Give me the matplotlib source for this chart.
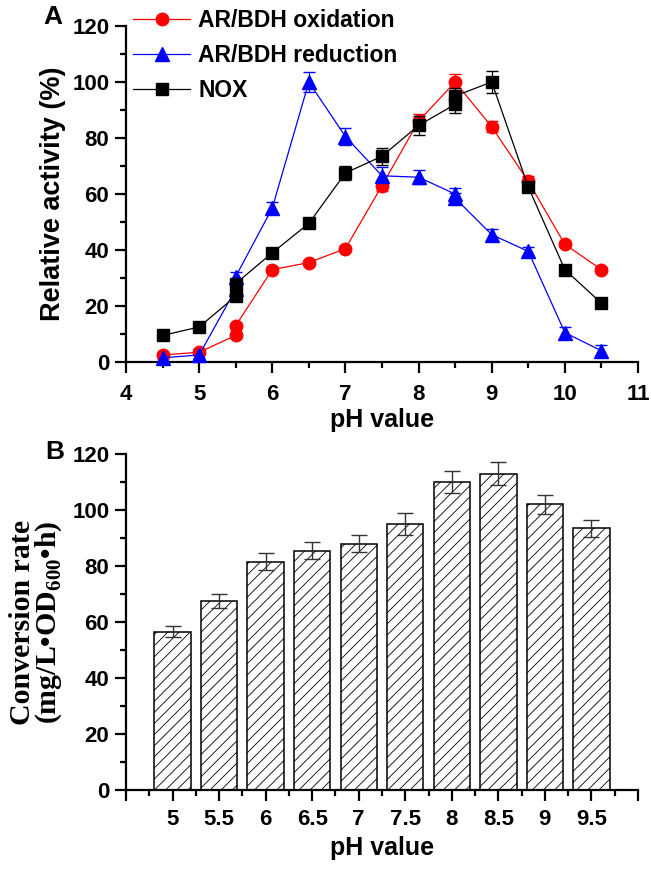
import numpy as np
import matplotlib
matplotlib.use("Agg")
from matplotlib import pyplot as plt
from matplotlib.ticker import MultipleLocator, FixedLocator

# panel A data (duplicated pH points come from two buffers)
ox_ph = [4.5, 5, 5.5, 5.5, 6, 6.5, 7, 7.5, 8, 8.5, 9, 9.5, 10, 10.5]
ox_act = [2.5, 3.5, 9.5, 13, 33, 35.5, 40.5, 63, 86, 100, 84, 64.5, 42, 33]
ox_err = [1, 1, 1, 1, 1, 1, 1, 2, 2.5, 3, 2, 2, 1, 1]

red_ph = [4.5, 5, 5.5, 5.5, 6, 6.5, 7, 7.5, 8, 8.5, 8.5, 9, 9.5, 10, 10.5]
red_act = [1.5, 2.5, 26, 30.5, 55, 100, 80.5, 66.5, 66, 60, 58.5, 45.5, 39.5, 10.5, 4]
red_err = [1, 1, 1.5, 1.5, 2, 3.5, 3, 3, 2.5, 2, 2, 2, 1.5, 2, 2]

nox_ph = [4.5, 5, 5.5, 5.5, 6, 6.5, 7, 7.5, 8, 8.5, 8.5, 9, 9.5, 10, 10.5]
nox_act = [9.5, 12.5, 23.5, 28, 39, 49.5, 67.5, 73.5, 84.5, 92, 95, 100, 62.5, 33, 21]
nox_err = [1, 1, 1.5, 1.5, 1.5, 1.5, 2.5, 3, 3.5, 3, 3, 4, 1.5, 1, 1]

# panel B data
conv_ph = ["5", "5.5", "6", "6.5", "7", "7.5", "8", "8.5", "9", "9.5"]
conv_rate = [56.5, 67.5, 81.5, 85.5, 88, 95, 110, 113, 102, 93.5]
conv_err = [2, 2.5, 3, 3, 3, 4, 4, 4, 3.5, 3]

plt.rcParams['font.family'] = ['Liberation Sans', 'DejaVu Sans']
plt.rcParams['font.weight'] = 'bold'
plt.rcParams['hatch.linewidth'] = 0.6
plt.rcParams['hatch.color'] = '#333333'
plt.rcParams['mathtext.fontset'] = 'custom'
plt.rcParams['mathtext.rm'] = 'Liberation Serif:bold'
plt.rcParams['mathtext.bf'] = 'Liberation Serif:bold'

W, H = 651, 872
fig = plt.figure(figsize=(W / 100, H / 100), dpi=100)
axA = fig.add_axes([126 / W, 1 - 362 / H, 512 / W, 336 / H])
axB = fig.add_axes([126 / W, 1 - 790 / H, 512 / W, 336 / H])

def style(ax):
    for s in ['top', 'right']:
        ax.spines[s].set_visible(False)
    for s in ['left', 'bottom']:
        ax.spines[s].set_linewidth(1.6)
    ax.tick_params(which='major', direction='out', length=8, width=1.6, labelsize=16)
    ax.tick_params(which='minor', direction='out', length=4, width=1.6)
    ax.tick_params(axis='y', which='major', pad=4)
    ax.tick_params(axis='x', which='major', pad=8)
    for lab in ax.get_xticklabels() + ax.get_yticklabels():
        lab.set_fontweight('bold')

# ---- panel A
axA.errorbar(ox_ph, ox_act, yerr=ox_err, color='red', marker='o', ms=9, lw=0.9,
             capsize=4, elinewidth=0.9, label='AR/BDH oxidation', clip_on=False, zorder=3)
axA.errorbar(red_ph, red_act, yerr=red_err, color='blue', marker='^', ms=10, lw=0.9,
             capsize=4, elinewidth=0.9, label='AR/BDH reduction', clip_on=False, zorder=3)
axA.errorbar(nox_ph, nox_act, yerr=nox_err, color='black', marker='s', ms=8, lw=0.9,
             capsize=4, elinewidth=0.9, label='NOX', clip_on=False, zorder=4)
axA.set_xlim(4, 11)
axA.set_ylim(0, 120)
axA.xaxis.set_major_locator(MultipleLocator(1))
axA.xaxis.set_minor_locator(MultipleLocator(0.5))
axA.yaxis.set_major_locator(MultipleLocator(20))
axA.yaxis.set_minor_locator(MultipleLocator(10))
style(axA)
axA.set_xlabel('pH value', fontsize=18, fontweight='bold', labelpad=2)
axA.set_ylabel('Relative activity (%)', fontsize=19.5, fontweight='bold')
axA.yaxis.set_label_coords(-0.118, 0.5)
h, l = axA.get_legend_handles_labels()
h = [x[0] for x in h]
axA.legend(h, l, loc='upper left', bbox_to_anchor=(133 / W, 1 - 9 / H),
           bbox_transform=fig.transFigure, frameon=False,
           prop={'size': 16.5, 'weight': 'bold'}, handlelength=2.5, handletextpad=0.35,
           labelspacing=0.52, borderaxespad=0, borderpad=0)
fig.text(43 / W, 1 - 17 / H, 'A', fontsize=19, fontweight='bold', va='center', ha='left')

# ---- panel B
pos = np.arange(len(conv_ph))
axB.bar(pos, conv_rate, width=0.78, color='white', edgecolor='black', lw=1.1,
        hatch='///', zorder=2)
axB.errorbar(pos, conv_rate, yerr=conv_err, fmt='none', ecolor='#333333',
             elinewidth=1, capsize=5.5, zorder=3)
axB.set_xlim(-1, 10)
axB.set_ylim(0, 120)
axB.xaxis.set_major_locator(FixedLocator(np.arange(-1, 11)))
axB.set_xticklabels([''] + conv_ph + [''])
axB.xaxis.set_minor_locator(MultipleLocator(0.5))
axB.yaxis.set_major_locator(MultipleLocator(20))
axB.yaxis.set_minor_locator(MultipleLocator(10))
style(axB)
axB.tick_params(axis='x', which='major', pad=6)
axB.set_xlabel('pH value', fontsize=18, fontweight='bold', labelpad=4)
axB.set_ylabel('Conversion rate\n(mg/L\u2022OD$_{600}$\u2022h)', fontsize=21.5,
               fontweight='bold', family=['Liberation Serif', 'DejaVu Serif'],
               linespacing=0.88)
axB.yaxis.set_label_coords(-0.122, 0.5)
fig.text(45 / W, 1 - 452 / H, 'B', fontsize=19, fontweight='bold', va='center', ha='left')

fig.savefig('out.png', dpi=100)
